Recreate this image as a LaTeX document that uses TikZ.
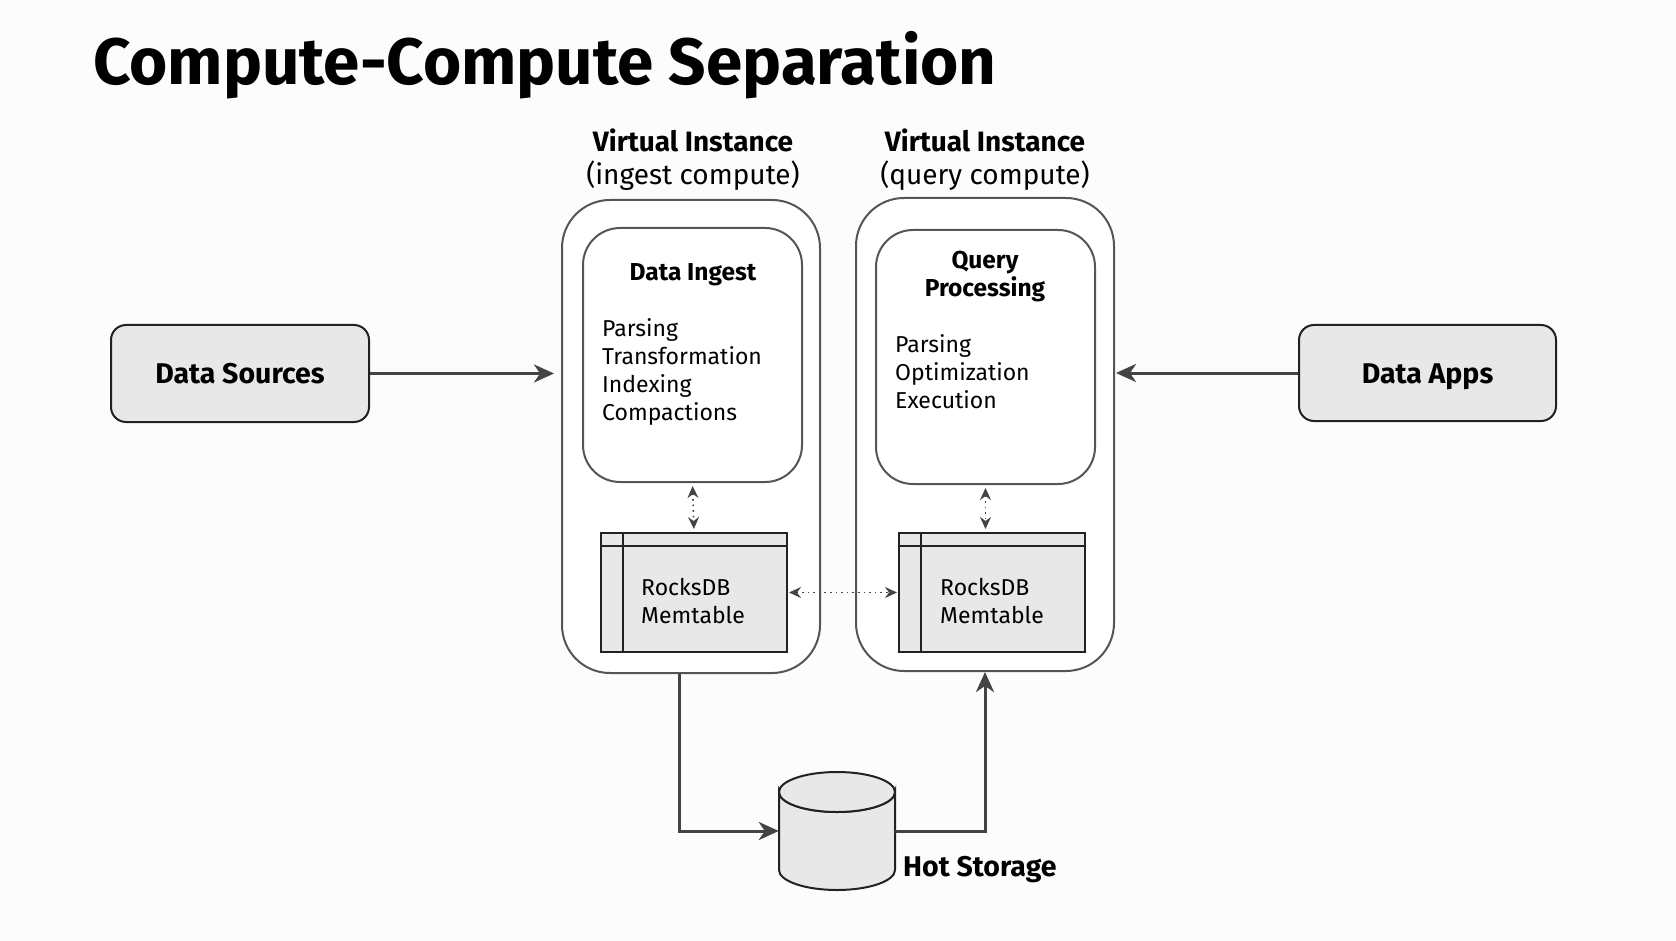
\documentclass[tikz,border=0pt]{standalone}
\usepackage{fontspec}
\setmainfont{Fira Sans}
\usetikzlibrary{arrows.meta,calc}
\definecolor{bgc}{HTML}{FCFCFC}
\definecolor{boxfill}{HTML}{E8E8E8}
\definecolor{arrc}{HTML}{444444}
\definecolor{edgec}{HTML}{222222}
\definecolor{outerc}{HTML}{555555}
\tikzset{
  srcbox/.style={draw=edgec, line width=2pt, fill=boxfill, rounded corners=15pt, font=\fontsize{28.5}{34}\selectfont\bfseries, inner sep=0pt, text height=20pt, text depth=0pt},
  vibox/.style={draw=outerc, line width=2pt, fill=white, rounded corners=48pt, inner sep=0pt},
  innerbox/.style={draw=outerc, line width=2pt, fill=white, rounded corners=37pt, inner sep=0pt},
  memtab/.style={draw=edgec, line width=2pt, fill=boxfill, inner sep=0pt},
  arr/.style={draw=arrc, line width=3pt, -{Stealth[length=20pt,width=18pt,inset=6pt]}},
  dotarr/.style={draw=arrc, line width=1.6pt, dash pattern=on 1.6pt off 4pt, {Stealth[length=12pt,width=11pt,inset=4pt]}-{Stealth[length=12pt,width=11pt,inset=4pt]}},
  body/.style={font=\fontsize{23}{28}\selectfont, align=left, inner sep=0pt},
  headl/.style={font=\fontsize{28}{33}\selectfont, align=center, inner sep=0pt},
  boldl/.style={font=\fontsize{24.5}{28}\selectfont\bfseries, align=center, inner sep=0pt},
}
\begin{document}
\begin{tikzpicture}[x=1pt,y=-1pt]
\fill[bgc] (0,0) rectangle (1676,941);
\useasboundingbox (0,0) rectangle (1676,941);

% title
\node[anchor=base west, inner sep=0pt, font=\fontsize{65.5}{72}\selectfont\bfseries] (title) at (93,85) {Compute-Compute Separation};

% outer virtual instances
\node[vibox, minimum width=258pt, minimum height=473pt] (lvi) at (691,436.5) {};
\node[vibox, minimum width=258pt, minimum height=473pt] (rvi) at (985,434.5) {};

% headings
\node[headl] (lhead) at (693,160) {\textbf{Virtual Instance}\\(ingest compute)};
\node[headl] (rhead) at (985,160) {\textbf{Virtual Instance}\\(query compute)};

% inner boxes
\node[innerbox, minimum width=219pt, minimum height=254pt] (di) at (692.5,355) {};
\node[innerbox, minimum width=219pt, minimum height=254pt] (qp) at (985.5,357) {};

\node[boldl] (dilabel) at (693,275) {Data Ingest};
\node[boldl] (qplabel) at (985,277) {Query\\Processing};

\node[body, anchor=north west] (ditext) at (602,318) {Parsing\\Transformation\\Indexing\\Compactions};
\node[body, anchor=north west] (qptext) at (895,334) {Parsing\\Optimization\\Execution};

% memtables
\node[memtab, minimum width=186pt, minimum height=119pt] (mt1) at (694,592.5) {};
\node[memtab, minimum width=186pt, minimum height=119pt] (mt2) at (992,592.5) {};
\draw[edgec, line width=2pt] (mt1.north west) ++(0,14) -- ++(186,0);
\draw[edgec, line width=2pt] (mt1.north west) ++(23,0) -- ++(0,119);
\draw[edgec, line width=2pt] (mt2.north west) ++(0,14) -- ++(186,0);
\draw[edgec, line width=2pt] (mt2.north west) ++(23,0) -- ++(0,119);
\node[body, anchor=north west] (mt1text) at (641,578) {RocksDB\\Memtable};
\node[body, anchor=north west] (mt2text) at (940,578) {RocksDB\\Memtable};

% side boxes
\node[srcbox, minimum width=258pt, minimum height=97pt] (ds) at (240,373.5) {Data Sources};
\node[srcbox, minimum width=257pt, minimum height=96pt] (da) at (1427.5,373) {Data Apps};

% hot storage cylinder
\node[minimum width=116pt, minimum height=118pt, inner sep=0pt] (hs) at (837,831) {};
\filldraw[draw=edgec, fill=boxfill, line width=2pt]
  (779,792) -- (779,870) arc[start angle=180, end angle=360, x radius=58pt, y radius=20pt]
  -- (895,792) arc[start angle=0, end angle=-180, x radius=58pt, y radius=20pt] -- cycle;
\draw[edgec, line width=2pt, fill=boxfill] (837,792) ellipse[x radius=58pt, y radius=20pt];
\node[anchor=west, inner sep=0pt, font=\fontsize{28.5}{34}\selectfont\bfseries] (hslabel) at (903,870) {Hot Storage};

% connectors
\draw[arr, shorten >=7pt] (ds.east) -- (ds.east -| lvi.west);
\draw[arr, shorten >=1pt] (da.west) -- (da.west -| rvi.east);
\draw[arr] ([xshift=-12pt]lvi.south) |- (hs.west);
\draw[arr] (hs.east) -| (rvi.south);
\draw[dotarr, shorten <=3pt, shorten >=3pt] (di.south) -- (mt1.north);
\draw[dotarr, shorten <=3pt, shorten >=3pt] (qp.south) -- (qp.south |- mt2.north);
\draw[dotarr, shorten <=1pt, shorten >=1pt] (mt1.east) -- (mt2.west);
\end{tikzpicture}
\end{document}
